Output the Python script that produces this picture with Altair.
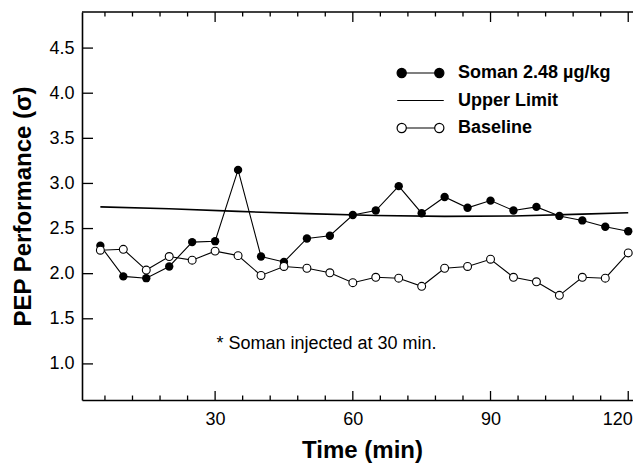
import altair as alt
import pandas as pd

# ---- data ----
times = [5, 10, 15, 20, 25, 30, 35, 40, 45, 50, 55, 60,
         65, 70, 75, 80, 85, 90, 95, 100, 105, 110, 115, 120]
soman = [2.31, 1.97, 1.95, 2.08, 2.35, 2.36, 3.15, 2.19, 2.13, 2.39, 2.42, 2.65,
         2.70, 2.97, 2.67, 2.85, 2.73, 2.81, 2.70, 2.74, 2.64, 2.59, 2.52, 2.47]
baseline = [2.26, 2.27, 2.04, 2.19, 2.15, 2.25, 2.20, 1.98, 2.08, 2.06, 2.01, 1.90,
            1.96, 1.95, 1.86, 2.06, 2.08, 2.16, 1.96, 1.91, 1.76, 1.96, 1.95, 2.23]
upper_times = [5, 20, 35, 50, 65, 80, 95, 110, 120]
upper_values = [2.74, 2.72, 2.69, 2.665, 2.645, 2.635, 2.64, 2.66, 2.675]

series_names = ["Soman 2.48 \u00b5g/kg", "Upper Limit", "Baseline"]
x_major = [30, 60, 90, 120]
x_minor = [6, 12, 18, 24, 36, 42, 48, 54, 66, 72, 78, 84, 96, 102, 108, 114]
y_ticks = [1.0, 1.5, 2.0, 2.5, 3.0, 3.5, 4.0, 4.5]
note = "* Soman injected at 30 min."
x_title = "Time (min)"
y_title = "PEP Performance (\u03c3)"

# ---- styling ----
F = "Liberation Sans"
W, H = 551, 388          # visible plot area (page is 641 px wide)
XR = 560                 # x scale range runs past the right edge, as in the reference

soman_df = pd.DataFrame({"t": times, "v": soman})
base_df = pd.DataFrame({"t": times, "v": baseline})
upper_df = pd.DataFrame({"t": upper_times, "v": upper_values})
legend_df = pd.DataFrame({"series": series_names})
note_df = pd.DataFrame({"note": [note]})
xmaj_df = pd.DataFrame({"t": x_major})
xmin_df = pd.DataFrame({"t": x_minor})
ytk_df = pd.DataFrame({"v": y_ticks})

xs = alt.Scale(domain=[1, 123], range=[0, XR], nice=False, zero=False)
ys = alt.Scale(domain=[0.6, 4.9], nice=False, zero=False)

ax_x = alt.Axis(orient="bottom", values=x_major, ticks=False, domain=True,
                domainColor="black", domainWidth=1.6, grid=False,
                labelFont=F, labelFontSize=18, labelColor="black",
                labelPadding=10, labelFlush=False, labelOverlap=False,
                labelAlign=alt.condition("datum.value == 120", alt.value("right"), alt.value("center")),
                labelOffset=alt.condition("datum.value == 120", alt.value(4), alt.value(0)),
                title=x_title, titleFont=F, titleFontSize=24,
                titleFontWeight="bold", titleColor="black", titlePadding=10)
ax_y = alt.Axis(orient="left", values=y_ticks, format=".1f", ticks=False,
                domain=True, domainColor="black", domainWidth=1.6, grid=False,
                labelFont=F, labelFontSize=18, labelColor="black", labelPadding=8,
                labelOverlap=False, title=y_title, titleFont=F, titleFontSize=24,
                titleFontWeight="bold", titleColor="black", titlePadding=13)

X = alt.X("t:Q", scale=xs, axis=None)
Y = alt.Y("v:Q", scale=ys, axis=None)

upper = alt.Chart(upper_df).mark_line(color="black", strokeWidth=1.6).encode(
    x=alt.X("t:Q", scale=xs, axis=ax_x),
    y=alt.Y("v:Q", scale=ys, axis=ax_y),
)
soman_line = alt.Chart(soman_df).mark_line(color="black", strokeWidth=1.1).encode(x=X, y=Y)
soman_pts = alt.Chart(soman_df).mark_point(
    shape="circle", filled=True, color="black", size=70, opacity=1
).encode(x=X, y=Y)
base_line = alt.Chart(base_df).mark_line(color="black", strokeWidth=1.1).encode(x=X, y=Y)
base_pts = alt.Chart(base_df).mark_point(
    shape="circle", filled=True, fill="white", stroke="black", strokeWidth=1.1,
    size=62, opacity=1
).encode(x=X, y=Y)

# inward tick marks on the frame, positioned through the scales
TW = 1.3
ticks = [
    alt.Chart(xmaj_df).mark_rule(color="black", strokeWidth=TW).encode(
        x=X, y=alt.value(H), y2=alt.value(H - 9)),
    alt.Chart(xmin_df).mark_rule(color="black", strokeWidth=TW).encode(
        x=X, y=alt.value(H), y2=alt.value(H - 4.5)),
    alt.Chart(xmaj_df).mark_rule(color="black", strokeWidth=TW).encode(
        x=X, y=alt.value(0), y2=alt.value(10)),
    alt.Chart(xmin_df).mark_rule(color="black", strokeWidth=TW).encode(
        x=X, y=alt.value(0), y2=alt.value(4.5)),
    alt.Chart(ytk_df).mark_rule(color="black", strokeWidth=TW).encode(
        y=Y, x=alt.value(0), x2=alt.value(11)),
]
top_spine = alt.Chart(note_df).mark_rule(color="black", strokeWidth=1.6).encode(
    x=alt.value(0), x2=alt.value(XR), y=alt.value(0))

# legend symbols: circle-line-circle paths (unit coordinates)
circ_line_circ = ("M-0.996,0A0.196,0.196,0,1,1,-0.604,0A0.196,0.196,0,1,1,-0.996,0Z"
                  "M-0.604,0L0.604,0"
                  "M0.604,0A0.196,0.196,0,1,1,0.996,0A0.196,0.196,0,1,1,0.604,0Z")
plain_line = "M-0.99,0L0.99,0"

leg = alt.Legend(orient="none", legendX=314, legendY=52, title=None, padding=0,
                 symbolSize=2209, symbolStrokeWidth=1.2, symbolStrokeColor="black",
                 symbolOffset=0, labelFont=F, labelFontSize=18, labelFontWeight="bold",
                 labelColor="black", labelOffset=13, labelLimit=300, rowPadding=9.5,
                 clipHeight=18)

legend_layer = alt.Chart(legend_df).mark_point(
    filled=True, strokeWidth=1.2, size=2209, opacity=1
).encode(
    shape=alt.Shape("series:N", scale=alt.Scale(domain=series_names,
                    range=[circ_line_circ, plain_line, circ_line_circ]), legend=leg),
    fill=alt.Fill("series:N", scale=alt.Scale(domain=series_names,
                  range=["black", "black", "white"]), legend=leg),
    stroke=alt.Stroke("series:N", scale=alt.Scale(domain=series_names,
                      range=["black", "black", "black"]), legend=leg),
).transform_filter("datum.series == 'none'")

note_layer = alt.Chart(note_df).mark_text(
    align="left", baseline="alphabetic", font=F, fontSize=18, color="black"
).encode(text="note:N", x=alt.value(134.5), y=alt.value(337.3))

chart = alt.layer(
    upper, soman_line, base_line, soman_pts, base_pts, *ticks, top_spine,
    legend_layer, note_layer
).resolve_axis(x="independent", y="independent").properties(
    width=W, height=H,
    autosize=alt.AutoSizeParams(type="none"),
    padding={"left": 74, "top": 4, "right": 0, "bottom": 63},
).configure_view(stroke="transparent")

chart.save("out.html", embed_options={"renderer": "svg", "actions": False})
